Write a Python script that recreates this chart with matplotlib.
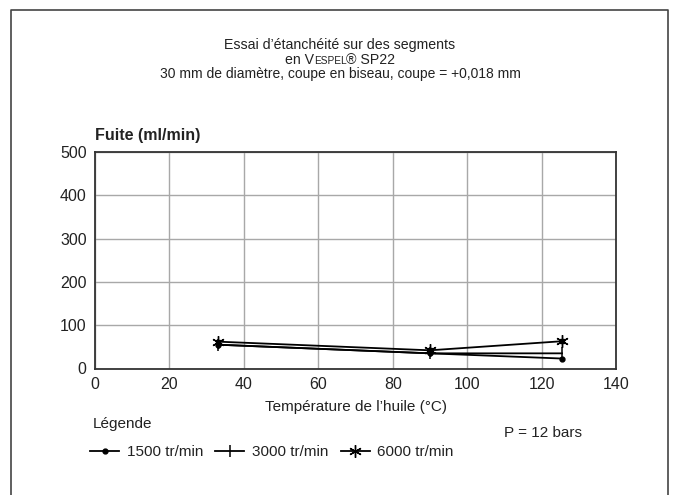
import matplotlib
matplotlib.use("Agg")
import matplotlib.pyplot as plt
from matplotlib.lines import Line2D

plt.rcParams['font.family'] = ['Liberation Sans', 'DejaVu Sans']

# data
temp = [33, 90, 125.5]
fuite_1500 = [55, 35, 23]
fuite_3000 = [55, 35, 35]
fuite_6000 = [62, 42, 63]
xticks = [0, 20, 40, 60, 80, 100, 120, 140]
yticks = [0, 100, 200, 300, 400, 500]
series_labels = ["1500 tr/min", "3000 tr/min", "6000 tr/min"]

W, H = 679, 495
fig = plt.figure(figsize=(W / 100, H / 100), dpi=100)
ax = fig.add_axes([95 / W, 1 - 368.5 / H, (616 - 95) / W, (368.5 - 152) / H])

txt = "#222222"
ax.plot(temp, fuite_1500, color="k", lw=1.3, marker="o", ms=3.5, label=series_labels[0])
ax.plot(temp, fuite_3000, color="k", lw=1.3, marker="|", ms=9, mew=1.1, label=series_labels[1])
ax.plot(temp, fuite_6000, color="k", lw=1.3, marker=(6, 2, 0), ms=9, mew=1.0, label=series_labels[2])
ax.plot(temp, fuite_6000, color="k", lw=0, marker="s", ms=3.5)

ax.set_xlim(0, 140)
ax.set_ylim(0, 500)
ax.set_xticks(xticks)
ax.set_yticks(yticks)
ax.grid(True, color="#a8a8a8", lw=1)
ax.set_axisbelow(True)
ax.tick_params(length=0, labelsize=11.5, labelcolor=txt, pad=6)
for s in ax.spines.values():
    s.set_color("#333333")
    s.set_linewidth(1.3)

ax.set_xlabel("Température de l’huile (°C)", fontsize=11, color=txt, labelpad=6)
fig.text(95 / W, 1 - 140 / H, "Fuite (ml/min)", fontsize=11.5, fontweight="bold",
         color=txt, ha="left", va="baseline")

# title block
cx = 340 / W
fig.text(cx, 1 - 49 / H, "Essai d’étanchéité sur des segments", fontsize=10.2,
         color=txt, ha="center", va="baseline")
fig.text(cx, 1 - 78 / H, "30 mm de diamètre, coupe en biseau, coupe = +0,018 mm",
         fontsize=10, color=txt, ha="center", va="baseline")
# second line with small caps "VESPEL"
parts = [("en V", 10.2), ("ESPEL", 7.3), ("® SP22", 10.2)]
fig.canvas.draw()
r = fig.canvas.get_renderer()
objs = [fig.text(0, 1 - 63.5 / H, t, fontsize=fs, color=txt, ha="left", va="baseline")
        for t, fs in parts]
widths = [o.get_window_extent(r).width / W for o in objs]
x0 = cx - sum(widths) / 2
for o, w in zip(objs, widths):
    o.set_x(x0)
    x0 += w

fig.text(93 / W, 1 - 428 / H, "Légende", fontsize=11, color=txt, ha="left", va="baseline")
fig.text(582 / W, 1 - 437 / H, "P = 12 bars", fontsize=11, color=txt, ha="right", va="baseline")

fig.legend(loc="center left", bbox_to_anchor=(90 / W, 1 - 452 / H), ncol=3,
           frameon=False, fontsize=11, handlelength=1.9, handletextpad=0.5,
           columnspacing=0.8, borderpad=0, borderaxespad=0, labelcolor=txt)

# outer frame (open at the bottom)
fig.add_artist(Line2D([11 / W, 11 / W, 668 / W, 668 / W],
                      [0, 1 - 10 / H, 1 - 10 / H, 0], color="#444444", lw=1.2))

fig.savefig("out.png", dpi=100)
